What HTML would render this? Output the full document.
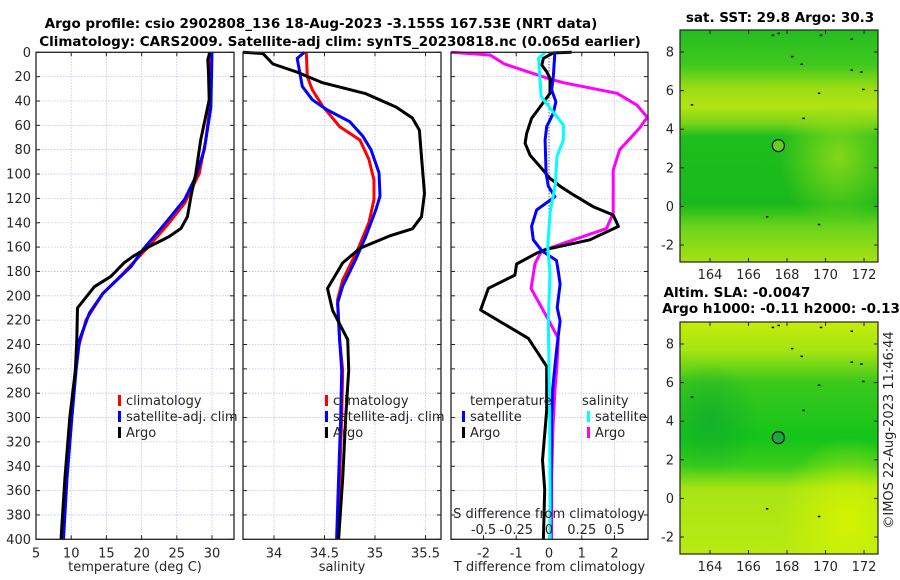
<!DOCTYPE html>
<html><head><meta charset="utf-8">
<style>
body{margin:0;background:#fff;}
svg{display:block;font-family:"DejaVu Sans","Liberation Sans",sans-serif;}
.tk{font-size:13px;fill:#262626;}
.tt{font-size:13.5px;font-weight:bold;fill:#000;}
</style></head>
<body>
<svg id="chart" width="900" height="580" viewBox="0 0 900 580">
<defs>
<linearGradient id="m1a" x1="0" y1="0" x2="0" y2="1">
<stop offset="0" stop-color="#24bc22"/><stop offset="0.15" stop-color="#40c81e"/>
<stop offset="0.25" stop-color="#9adc14"/><stop offset="0.33" stop-color="#b4e412"/><stop offset="0.4" stop-color="#7ad418"/>
<stop offset="0.46" stop-color="#1ebe1e"/><stop offset="0.75" stop-color="#1ab81c"/>
<stop offset="0.85" stop-color="#6ad41a"/><stop offset="1" stop-color="#a8e014"/>
</linearGradient>
<radialGradient id="m1b" cx="0.8" cy="0.55" r="0.3"><stop offset="0" stop-color="#9ede16" stop-opacity="0.8"/><stop offset="1" stop-color="#9ede16" stop-opacity="0"/></radialGradient>
<linearGradient id="m2a" x1="0" y1="0" x2="0" y2="1">
<stop offset="0" stop-color="#c4ec0c"/><stop offset="0.12" stop-color="#a8e410"/>
<stop offset="0.26" stop-color="#3cc81c"/><stop offset="0.5" stop-color="#14c41a"/>
<stop offset="0.62" stop-color="#3ccc1c"/><stop offset="0.72" stop-color="#a8e414"/>
<stop offset="1" stop-color="#b8ea12"/>
</linearGradient>
<radialGradient id="m2b" cx="0.85" cy="0.85" r="0.35"><stop offset="0" stop-color="#d8f400" stop-opacity="0.9"/><stop offset="1" stop-color="#d8f400" stop-opacity="0"/></radialGradient>
<radialGradient id="m2c" cx="0.15" cy="0.42" r="0.25"><stop offset="0" stop-color="#10a830" stop-opacity="0.7"/><stop offset="1" stop-color="#10a830" stop-opacity="0"/></radialGradient>
</defs>
<g id="titles">
<text x="321" y="28" text-anchor="middle" class="tt">Argo profile: csio 2902808_136 18-Aug-2023 -3.155S 167.53E (NRT data)</text>
<text x="340" y="46" text-anchor="middle" class="tt">Climatology: CARS2009. Satellite-adj clim: synTS_20230818.nc (0.065d earlier)</text>
</g>
<g id="panels"></g>
<g id="maps"></g>
<text transform="translate(893,430) rotate(-90)" text-anchor="middle" class="tk">©IMOS 22-Aug-2023 11:46:44</text>
</svg>
<script>
// ---- Panel 1: temperature ----
const tDepthArgo=[0,6,17,39,72,99.5,118.6,135,144.6,151.4,159.6,168,173,184,192.5,210,236,261,300,350,400];
const tArgo=[29.7,29.4,29.5,29.6,28.4,27.7,27.0,26.5,25.6,23.9,21.1,18.7,17.5,15.65,13.3,10.9,10.8,10.6,9.8,9.1,8.55];
const tDepthClim=[0,39,72,99.5,124,143,162,182,198,220,245,261,300,350,400];
const tClim=[29.6,29.85,29.1,28.2,26.1,23.5,20.6,17.3,14.5,12.1,10.9,10.6,10.0,9.3,8.8];
const tDepthSat=[0,45,80,102,121,143,162,176,198,214,236,261,300,350,400];
const tSat=[30.0,29.85,28.9,27.7,26.1,23.0,20.2,18.5,14.5,12.6,11.2,10.7,10.1,9.4,8.9];
const tTicks=[5,10,15,20,25,30];
// ---- Panel 2: salinity ----
const sDepthArgo=[0,1,9.6,16,25,34,45,54,64,86,116,135,145,151,161,173,194,212,236,261,300,350,400];
const sArgo=[33.69,33.89,33.99,34.22,34.48,34.91,35.21,35.37,35.44,35.46,35.49,35.46,35.37,35.14,34.85,34.68,34.53,34.58,34.73,34.74,34.71,34.68,34.64];
const sDepthClim=[0,20,31,44,61,72,88,105,121,140,162,187,203,236,261,300,350,400];
const sClim=[34.32,34.33,34.38,34.48,34.65,34.85,34.94,34.99,34.99,34.94,34.83,34.68,34.63,34.65,34.68,34.67,34.65,34.63];
const sDepthSat=[0,5,28,39,47,57,69,80,99,118,129,151,170,192,206,236,261,300,350,400];
const sSat=[34.30,34.23,34.28,34.38,34.52,34.75,34.88,34.96,35.04,35.05,35.01,34.91,34.81,34.68,34.63,34.65,34.67,34.66,34.64,34.62];
const sTicks=[34,34.5,35,35.5];
// ---- Panel 3: differences ----
const dTArgoDepth=[0,0.5,4.9,10.4,15.9,21.4,33.7,44.7,54.2,66.5,74.7,84.4,94,103.5,110,117,126.8,133.6,143,154,161.8,165,173.9,183,193.8,211.7,235,258,294,335,359,400];
const dTArgo=[0.69,0.13,-0.17,-0.22,-0.07,0.03,0.03,-0.27,-0.53,-0.68,-0.73,-0.58,-0.27,0.03,0.34,0.74,1.35,1.96,2.12,1.25,-0.07,-0.38,-0.99,-1.04,-1.85,-2.09,-0.63,-0.07,-0.07,-0.2,-0.13,-0.17];
const dTSatDepth=[0,20,31,40.5,50,61,72,99.5,110,118.6,129.5,143,154,163,171,179.5,190.5,209.8,220.7,240,258,277,300,350,400];
const dTSat=[0.18,0.13,0.08,0.21,0.13,-0.07,-0.12,-0.09,-0.02,0.18,-0.38,-0.53,-0.48,-0.22,0.23,0.28,0.34,0.25,0.34,0.25,0.18,0.11,0.08,0.06,0.05];
const dSArgoDepth=[0,2.2,9.6,22,25,33.7,43.3,53.4,62.4,80,96.7,132,144.6,163,173.5,185,194,217,235,258,277,310,350,400];
const dSArgo=[-0.75,-0.45,-0.34,0.008,0.11,0.52,0.67,0.75,0.69,0.54,0.49,0.49,0.44,-0.056,-0.107,-0.124,-0.137,-0.018,0.071,0.06,0.046,0.03,0.02,0.02];
const dSSatDepth=[0,4.9,20,36.4,48.8,59.7,72,85.7,107.6,132,159.7,181.5,220,260,300,350,400];
const dSSat=[-0.03,-0.08,-0.07,-0.06,0.03,0.11,0.11,0.06,0.05,0.008,-0.01,0.008,-0.005,0.0,0.005,0.008,0.01];
const dTTicks=[-2,-1,0,1,2];
const dSTicks=[-0.5,-0.25,0,0.25,0.5];
const dSTickLabels=["-0.5","-0.25","0","0.25","0.5"];
const depthTicks=[0,20,40,60,80,100,120,140,160,180,200,220,240,260,280,300,320,340,360,380,400];
// ---- Maps ----
const lonTicks=[164,166,168,170,172];
const latTicks=[-2,0,2,4,6,8];
const floatLon=167.55, floatLat=3.15;

const NS="http://www.w3.org/2000/svg";
function mk(tag,attrs,parent){const e=document.createElementNS(NS,tag);for(const k in attrs)e.setAttribute(k,attrs[k]);parent.appendChild(e);return e;}
const panels=document.getElementById('panels');
const top0=52.3, bot0=539.3;
function yD(d){return top0+(bot0-top0)*d/400;}
function mkScale(x0,x1,v0,v1){return v=>x0+(v-v0)*(x1-x0)/(v1-v0);}

function panel(name,x0,x1,scale,ticks,labels,xlabel,leftLabels){
  const g=mk('g',{},panels);
  
  
  const grid=mk('g',{},g);
  
  
  ticks.forEach(t=>{const x=scale(t);mk('line',{x1:x,x2:x,y1:top0,y2:bot0,stroke:'#b9c3ea','stroke-width':0.8,'stroke-dasharray':'1.5,1.5'},grid);});
  depthTicks.forEach(d=>{const y=yD(d);mk('line',{x1:x0,x2:x1,y1:y,y2:y,stroke:'#b9c3ea','stroke-width':0.8,'stroke-dasharray':'1.5,1.5'},grid);});
  ticks.forEach((t,i)=>{const x=scale(t);
    mk('line',{x1:x,x2:x,y1:bot0,y2:bot0-4,stroke:'#222'},g);mk('line',{x1:x,x2:x,y1:top0,y2:top0+4,stroke:'#222'},g);
    const tl=mk('text',{x:x,y:bot0+18,'text-anchor':'middle',class:'tk'},g);tl.textContent=labels[i];
    
    });
  depthTicks.forEach(d=>{const y=yD(d);
    mk('line',{x1:x0,x2:x0+4,y1:y,y2:y,stroke:'#222'},g);mk('line',{x1:x1,x2:x1-4,y1:y,y2:y,stroke:'#222'},g);
    if(leftLabels){const tl=mk('text',{x:x0-5,y:y+4.5,'text-anchor':'end',class:'tk'},g);tl.textContent=d;
      
      }});
  const xl=mk('text',{x:(x0+x1)/2,y:571,'text-anchor':'middle',class:'tk'},g);xl.textContent=xlabel;
  
  
  return g;
}
function series(g,name,vals,depths,scale,color,x0,x1){
  const pts=vals.map((v,i)=>[Math.max(x0,Math.min(x1,scale(v))),yD(depths[i])]);
  const p=mk('polyline',{points:pts.map(p=>p[0].toFixed(1)+','+p[1].toFixed(1)).join(' '),fill:'none',stroke:color,'stroke-width':3,'stroke-linejoin':'round'},g);
  
  
}
function frame(g,x0,x1){mk('rect',{x:x0,y:top0,width:x1-x0,height:bot0-top0,fill:'none',stroke:'#222','stroke-width':1.3},g);}
function legend(g,x,y,color,label,name){
  mk('rect',{x:x,y:y-10,width:3,height:11,fill:color},g);
  const t=mk('text',{x:x+8,y:y,class:'tk'},g);t.textContent=label;
  
  
}

// Panel 1
const sc1=mkScale(36,234,5,33.125);
const g1=panel('temperature-panel',36,234,sc1,tTicks,tTicks.map(String),'temperature (deg C)',true);
series(g1,'temp-climatology-line',tClim,tDepthClim,sc1,'#ff0000',36,234);
series(g1,'temp-satellite-line',tSat,tDepthSat,sc1,'#0000ff',36,234);
series(g1,'temp-argo-line',tArgo,tDepthArgo,sc1,'#000000',36,234);
frame(g1,36,234);
legend(g1,118,405,'#ff0000','climatology','legend-climatology');
legend(g1,118,421,'#0000ff','satellite-adj. clim','legend-satellite');
legend(g1,118,437,'#000000','Argo','legend-argo');

// Panel 2
const sc2b=v=>274+(v-34)*101;
const g2=panel('salinity-panel',243,441,sc2b,sTicks,['34','34.5','35','35.5'],'salinity',false);
series(g2,'sal-climatology-line',sClim,sDepthClim,sc2b,'#ff0000',243,441);
series(g2,'sal-satellite-line',sSat,sDepthSat,sc2b,'#0000ff',243,441);
series(g2,'sal-argo-line',sArgo,sDepthArgo,sc2b,'#000000',243,441);
frame(g2,243,441);
legend(g2,325,405,'#ff0000','climatology','legend-climatology');
legend(g2,325,421,'#0000ff','satellite-adj. clim','legend-satellite');
legend(g2,325,437,'#000000','Argo','legend-argo');

// Panel 3
const sc3=v=>549+v*32.75;
const sc3s=v=>549+v*131;
const g3=panel('difference-panel',451,648,sc3,dTTicks,dTTicks.map(String),'T difference from climatology',false);
mk('line',{x1:549,x2:549,y1:top0,y2:bot0,stroke:'#333','stroke-width':1,'stroke-dasharray':'1,2'},g3);
series(g3,'diff-sal-argo-line',dSArgo,dSArgoDepth,sc3s,'#ff00ff',451,648);
series(g3,'diff-temp-argo-line',dTArgo,dTArgoDepth,sc3,'#000000',451,648);
series(g3,'diff-temp-satellite-line',dTSat,dTSatDepth,sc3,'#0000ff',451,648);
series(g3,'diff-sal-satellite-line',dSSat,dSSatDepth,sc3s,'#00ffff',451,648);
frame(g3,451,648);
{const t=mk('text',{x:470,y:405,class:'tk'},g3);t.textContent='temperature';
 
 
 const s=mk('text',{x:582,y:405,class:'tk'},g3);s.textContent='salinity';
 
 }
legend(g3,462,421,'#0000ff','satellite','legend-temp-satellite');
legend(g3,462,437,'#000000','Argo','legend-temp-argo');
legend(g3,587,421,'#00ffff','satellite','legend-sal-satellite');
legend(g3,587,437,'#ff00ff','Argo','legend-sal-argo');
{const t=mk('text',{x:549,y:518,'text-anchor':'middle',class:'tk'},g3);t.textContent='S difference from climatology';
 
 
 dSTicks.forEach((v,i)=>{const l=mk('text',{x:sc3s(v),y:534,'text-anchor':'middle',class:'tk'},g3);l.textContent=dSTickLabels[i];
  
  });}

// Maps
const maps=document.getElementById('maps');
function map(name,top,bottom,lat8y,latm2y,fill,overlays,titles,dotColor){
  const g=mk('g',{},maps);
  
  
  const x0=680,x1=878;
  const lx=lon=>x0+(lon-162.44)*19.25;
  const ly=lat=>lat8y+(8-lat)*(latm2y-lat8y)/10;
  mk('rect',{x:x0,y:top,width:x1-x0,height:bottom-top,fill:fill},g);
  overlays.forEach(o=>mk('rect',{x:x0,y:top,width:x1-x0,height:bottom-top,fill:o},g));
  [[163,5.3],[166.9,-0.5],[169.6,-0.9],[168.8,4.6],[169.6,5.9],[171.3,7.1],[171.8,7.0],[168.7,7.4],[168.2,7.8],[167.2,8.9],[167.5,9.0],[169.7,8.9],[171.3,8.7],[171.9,6.1]].forEach(p=>mk('rect',{x:lx(p[0]),y:ly(p[1]),width:2.5,height:1.5,fill:'#000'},g));
  mk('rect',{x:x0,y:top,width:x1-x0,height:bottom-top,fill:'none',stroke:'#222','stroke-width':1.2},g);
  lonTicks.forEach(l=>{const x=lx(l);mk('line',{x1:x,x2:x,y1:bottom,y2:bottom-4,stroke:'#222'},g);mk('line',{x1:x,x2:x,y1:top,y2:top+4,stroke:'#222'},g);
    const t=mk('text',{x:x,y:bottom+17,'text-anchor':'middle',class:'tk'},g);t.textContent=l;
    
    });
  latTicks.forEach(l=>{const y=ly(l);mk('line',{x1:x0,x2:x0+4,y1:y,y2:y,stroke:'#222'},g);mk('line',{x1:x1,x2:x1-4,y1:y,y2:y,stroke:'#222'},g);
    const t=mk('text',{x:x0-6,y:y+4.5,'text-anchor':'end',class:'tk'},g);t.textContent=l;
    
    });
  const c=mk('circle',{cx:lx(floatLon),cy:ly(floatLat),r:6,fill:dotColor,stroke:'#000','stroke-width':1.2},g);
  
  
  titles.forEach(tt=>{const t=mk('text',{x:tt[1],y:tt[2],'text-anchor':'middle',class:'tt'},g);t.textContent=tt[0];
    
    });
}
map('sst-map',30,262,52,245,'url(#m1a)',['url(#m1b)'],[['sat. SST: 29.8 Argo: 30.3',780,22]],'#66d020');
map('sla-map',322,554,344,537,'url(#m2a)',['url(#m2b)','url(#m2c)'],[['Altim. SLA: -0.0047',737,297],['Argo h1000: -0.11 h2000: -0.13',781,313]],'#1aa84a');
</script>
</body></html>
